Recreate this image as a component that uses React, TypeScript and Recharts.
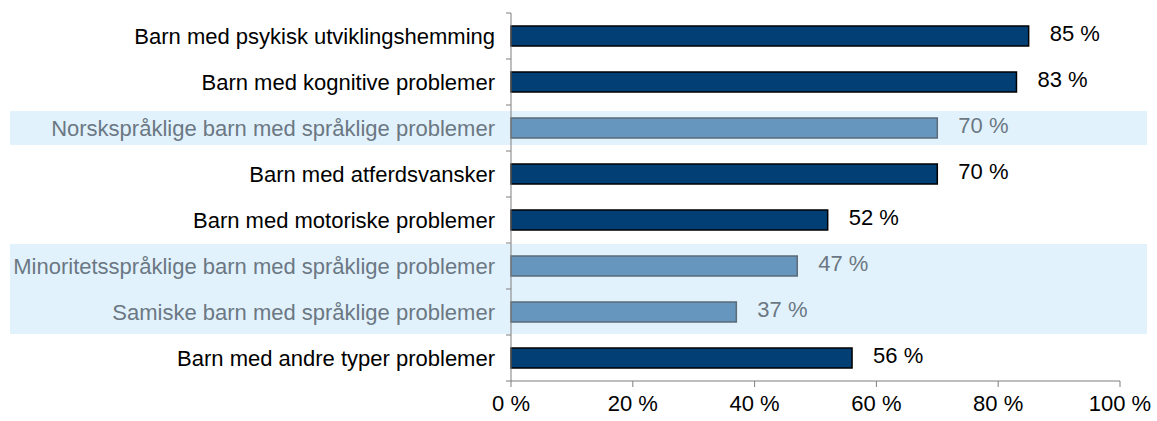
import { BarChart, Bar, XAxis, YAxis, Cell, LabelList, ReferenceArea } from "recharts";

const categories = [
  "Barn med psykisk utviklingshemming",
  "Barn med kognitive problemer",
  "Norskspråklige barn med språklige problemer",
  "Barn med atferdsvansker",
  "Barn med motoriske problemer",
  "Minoritetsspråklige barn med språklige problemer",
  "Samiske barn med språklige problemer",
  "Barn med andre typer problemer",
];
const values = [85, 83, 70, 70, 52, 47, 37, 56];
const highlighted = [false, false, true, false, false, true, true, false];
const xTicks = [0, 20, 40, 60, 80, 100];

const data = categories.map((name, i) => ({ name, value: values[i], hl: highlighted[i] }));

const W = 1157;
const H = 421;
const TOP = 13;
const AXIS_H = 40;
const BAND = (H - TOP - AXIS_H) / categories.length;
const FONT = "'Liberation Sans', Arial, sans-serif";
const FS = 22;
const DARK = "#023f75";
const LIGHT = "#6696be";
const GREY_TEXT = "#6b7883";
const AXIS = "#7f7f7f";

function CategoryTick(props: any) {
  const { x, y, payload, index } = props;
  const axisX = x + 16;
  const hl = highlighted[index];
  return (
    <g>
      <line x1={axisX - 5} x2={axisX} y1={y - BAND / 2} y2={y - BAND / 2} stroke={AXIS} />
      {index === categories.length - 1 && (
        <line x1={axisX - 5} x2={axisX} y1={y + BAND / 2} y2={y + BAND / 2} stroke={AXIS} />
      )}
      <text x={x} y={y} dy="0.355em" textAnchor="end" fontSize={FS} fontFamily={FONT} fill={hl ? GREY_TEXT : "#000"}>
        {payload.value}
      </text>
    </g>
  );
}

function ValueLabel(props: any) {
  const { x, y, width, height, value, index } = props;
  return (
    <text
      x={x + width + 21}
      y={y + height / 2 - 3}
      dy="0.355em"
      fontSize={FS}
      fontFamily={FONT}
      fill={highlighted[index] ? GREY_TEXT : "#000"}
    >
      {value} %
    </text>
  );
}

const band = (inset: number) => (p: any) =>
  <rect x={10} y={p.y + inset} width={1137} height={p.height - inset * 2} fill="#e2f2fd" />;

export default function App() {
  return (
    <div style={{ position: "absolute", left: 0, top: 0, background: "#fff" }}>
      <BarChart
        width={W}
        height={H}
        data={data}
        layout="vertical"
        margin={{ top: TOP, right: 37, bottom: 0, left: 0 }}
        barSize={20}
      >
        <ReferenceArea y1={categories[2]} y2={categories[2]} ifOverflow="visible" shape={band(6)} />
        <ReferenceArea y1={categories[5]} y2={categories[6]} ifOverflow="visible" shape={band(1)} />
        <XAxis
          type="number"
          domain={[0, 100]}
          ticks={xTicks}
          tickFormatter={(v) => `${v} %`}
          height={AXIS_H}
          stroke={AXIS}
          tickSize={6}
          tickMargin={8}
          tick={{ fill: "#000", fontSize: FS, fontFamily: FONT }}
          interval={0}
        />
        <YAxis
          type="category"
          dataKey="name"
          width={511}
          stroke={AXIS}
          tickLine={false}
          tickSize={0}
          tickMargin={16}
          interval={0}
          tick={<CategoryTick />}
        />
        <Bar dataKey="value" isAnimationActive={false} strokeWidth={1.5}>
          {data.map((d, i) => (
            <Cell key={i} fill={d.hl ? LIGHT : DARK} stroke={d.hl ? "#5c6b77" : "#000"} />
          ))}
          <LabelList dataKey="value" content={<ValueLabel />} />
        </Bar>
      </BarChart>
    </div>
  );
}
